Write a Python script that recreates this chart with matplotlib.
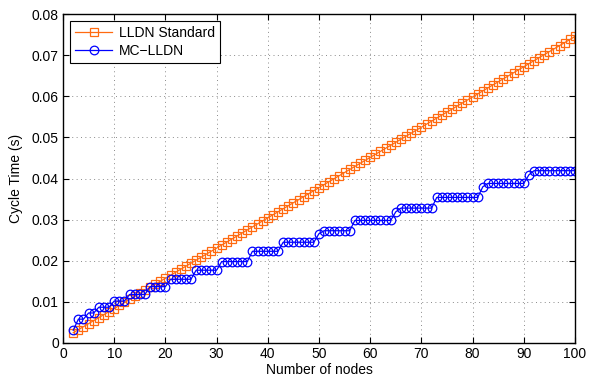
import matplotlib
matplotlib.use("Agg")
import matplotlib.pyplot as plt

nodes = list(range(2, 101))

lldn_standard = [
    0.00250, 0.00324, 0.00397, 0.00471, 0.00544, 0.00618, 0.00691, 0.00765, 0.00838,
    0.00912, 0.00985, 0.01059, 0.01132, 0.01206, 0.01279, 0.01353, 0.01426, 0.01500,
    0.01573, 0.01647, 0.01720, 0.01794, 0.01867, 0.01941, 0.02014, 0.02088, 0.02161,
    0.02235, 0.02308, 0.02382, 0.02455, 0.02529, 0.02602, 0.02676, 0.02749, 0.02823,
    0.02896, 0.02970, 0.03043, 0.03117, 0.03190, 0.03264, 0.03337, 0.03411, 0.03484,
    0.03558, 0.03631, 0.03705, 0.03778, 0.03852, 0.03925, 0.03999, 0.04072, 0.04146,
    0.04219, 0.04293, 0.04366, 0.04440, 0.04513, 0.04587, 0.04660, 0.04734, 0.04807,
    0.04881, 0.04954, 0.05028, 0.05101, 0.05175, 0.05248, 0.05322, 0.05395, 0.05469,
    0.05542, 0.05616, 0.05689, 0.05763, 0.05836, 0.05910, 0.05983, 0.06057, 0.06130,
    0.06204, 0.06277, 0.06351, 0.06424, 0.06498, 0.06571, 0.06645, 0.06718, 0.06792,
    0.06865, 0.06939, 0.07012, 0.07086, 0.07159, 0.07233, 0.07306, 0.07380, 0.07453,
]

mc_lldn = (
    [0.0031]
    + [0.0058] * 2          # 3-4
    + [0.0073] * 2          # 5-6
    + [0.0087] * 3          # 7-9
    + [0.0102] * 3          # 10-12
    + [0.0118] * 4          # 13-16
    + [0.0137] * 4          # 17-20
    + [0.0155] * 5          # 21-25
    + [0.0177] * 5          # 26-30
    + [0.0198] * 6          # 31-36
    + [0.0223] * 6          # 37-42
    + [0.0245] * 7          # 43-49
    + [0.0266]              # 50
    + [0.0273] * 6          # 51-56
    + [0.0298] * 8          # 57-64
    + [0.0319]              # 65
    + [0.0328] * 7          # 66-72
    + [0.0354] * 9          # 73-81
    + [0.0380]              # 82
    + [0.0388] * 8          # 83-90
    + [0.0409]              # 91
    + [0.0419] * 9          # 92-100
)

x_ticks = [0, 10, 20, 30, 40, 50, 60, 70, 80, 90, 100]
y_ticks = [0, 0.01, 0.02, 0.03, 0.04, 0.05, 0.06, 0.07, 0.08]
y_tick_labels = ["0", "0.01", "0.02", "0.03", "0.04", "0.05", "0.06", "0.07", "0.08"]

plt.rcParams["font.family"] = ["Liberation Sans", "DejaVu Sans"]

fig = plt.figure(figsize=(5.99, 3.80), dpi=100)
ax = fig.add_axes([63 / 599, 37 / 380, 512 / 599, 329 / 380])

orange = "#ff6a10"
blue = "#0000ff"

ax.plot(nodes, lldn_standard, color=orange, lw=0.9, marker="s", ms=5.2,
        mfc="none", mec=orange, mew=0.9, label="LLDN Standard")
ax.plot(nodes, mc_lldn, color=blue, lw=0.9, marker="o", ms=6.2,
        mfc="none", mec=blue, mew=0.9, label="MC\u2212LLDN")

ax.set_xlim(0, 100)
ax.set_ylim(0, 0.08)
ax.set_xticks(x_ticks)
ax.set_yticks(y_ticks)
ax.set_yticklabels(y_tick_labels)
ax.tick_params(direction="in", length=4, width=0.8, top=True, right=True,
               labelsize=10, pad=3)
for s in ax.spines.values():
    s.set_linewidth(1.0)
ax.grid(True, linestyle=(0, (1, 3.5)), color="#8a8a8a", linewidth=0.7)

ax.set_xlabel("Number of nodes", fontsize=10, labelpad=1)
ax.set_ylabel("Cycle Time (s)", fontsize=10, labelpad=6)

leg = ax.legend(loc="upper left", fontsize=10, frameon=True, fancybox=False,
                edgecolor="black", framealpha=1, handlelength=2.7,
                borderaxespad=0.5, borderpad=0.35, labelspacing=0.3,
                handletextpad=0.5)
leg.get_frame().set_linewidth(0.8)

fig.savefig("out.png", dpi=100)
